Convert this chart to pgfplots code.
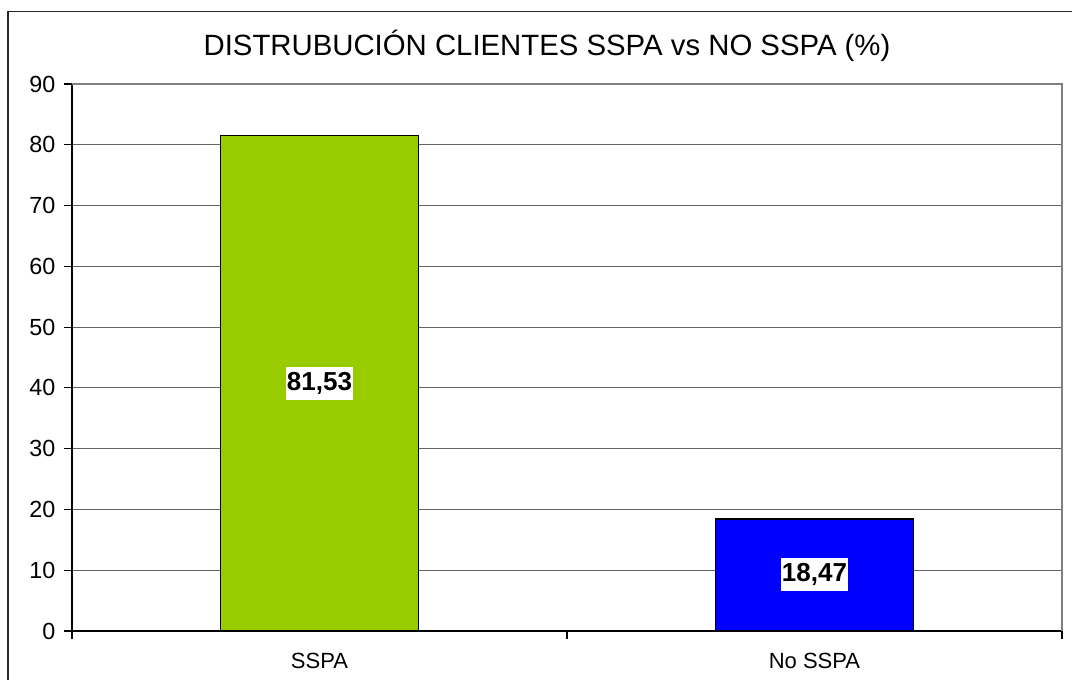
\documentclass[border=0pt]{standalone}
\usepackage{pgfplots}
\pgfplotsset{compat=1.18}
\usepackage{fontspec}
\setmainfont{Liberation Sans}
\definecolor{barGreen}{RGB}{153,204,0}
\definecolor{barBlue}{RGB}{0,0,255}
\definecolor{gridGray}{RGB}{100,100,100}
\definecolor{borderGray}{RGB}{128,128,128}
\begin{document}
\begin{tikzpicture}
\useasboundingbox (0pt,0pt) rectangle (804pt,509.25pt);
% outer chart frame (cropped at right and bottom)
\draw[line width=1.1pt, black!85] (6pt,-20pt) -- (6pt,500.5pt) -- (830pt,500.5pt);
% title
\node[font=\fontsize{22}{26}\selectfont] at (410.25pt,474.75pt) {DISTRUBUCIÓN CLIENTES SSPA vs NO SSPA (\%)};
\begin{axis}[
  at={(54pt,36pt)}, anchor=south west,
  scale only axis,
  width=742.5pt, height=410.25pt,
  xmin=-0.5, xmax=1.5,
  ymin=0, ymax=90,
  ytick={0,10,...,90},
  xtick={-0.5,0.5,1.5},
  xticklabels={},
  extra x ticks={0,1},
  extra x tick labels={SSPA,No SSPA},
  extra x tick style={major tick length=0pt, grid=none,
    xticklabel style={font=\fontsize{16.5}{19}\selectfont, yshift=-13pt}},
  tick align=outside,
  major tick length=6pt,
  tick style={black, line width=0.8pt},
  axis x line*=bottom,
  axis y line*=left,
  axis line style={black, line width=0.9pt},
  ymajorgrids,
  major grid style={gridGray, line width=0.75pt},
  yticklabel style={font=\fontsize{17.5}{20}\selectfont, xshift=-3pt},
  /pgf/number format/assume math mode=true,
  ybar, bar width=148.5pt, bar shift=0pt,
  clip=false,
]
\addplot[fill=barGreen, draw=black, line width=1.4pt, bar shift=0pt] coordinates {(0,81.53)};
\addplot[fill=barBlue, draw=black, line width=1.4pt, bar shift=0pt] coordinates {(1,18.47)};
% plot-area border (top/right)
\draw[borderGray, line width=1.1pt] (axis cs:-0.5,90) -- (axis cs:1.5,90) -- (axis cs:1.5,0);
\node[fill=white, inner xsep=0.5pt, inner ysep=4pt, font=\bfseries\fontsize{19.5}{22}\selectfont] at (axis cs:0,40.765) {81,53};
\node[fill=white, inner xsep=0.5pt, inner ysep=4pt, font=\bfseries\fontsize{19.5}{22}\selectfont] at (axis cs:1,9.235) {18,47};
\end{axis}
\end{tikzpicture}
\end{document}
